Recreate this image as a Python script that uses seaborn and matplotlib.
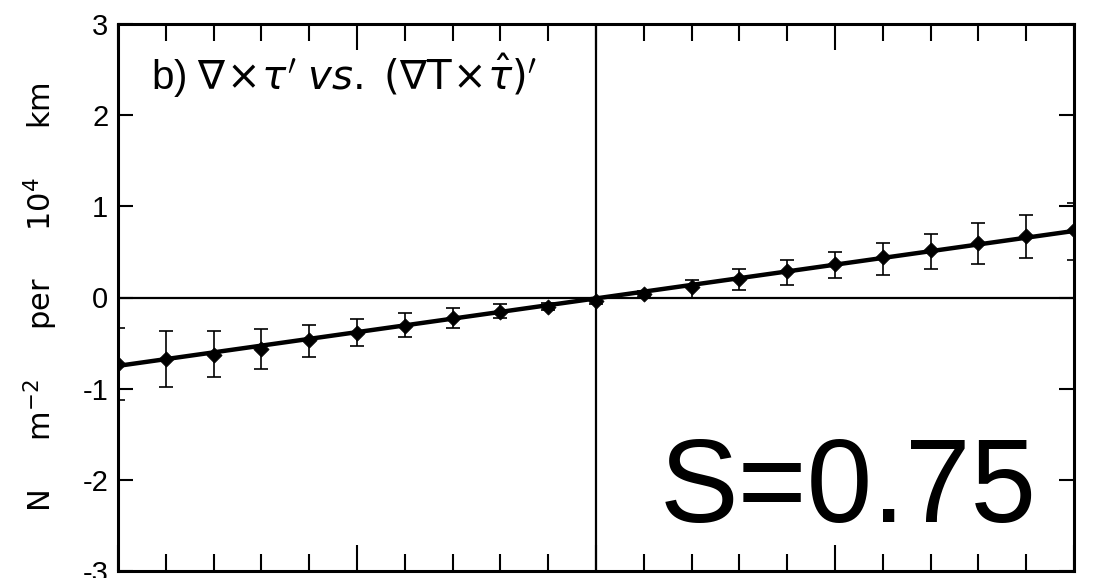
import numpy as np
import pandas as pd
import matplotlib
matplotlib.use("Agg")
import matplotlib.pyplot as plt
from matplotlib.ticker import MultipleLocator
import seaborn as sns

# ---- data ----
x_vals = [-1.0, -0.9, -0.8, -0.7, -0.6, -0.5, -0.4, -0.3, -0.2, -0.1, 0.0,
          0.1, 0.2, 0.3, 0.4, 0.5, 0.6, 0.7, 0.8, 0.9, 1.0]
y_mean = [-0.73, -0.68, -0.63, -0.57, -0.47, -0.39, -0.31, -0.22, -0.16, -0.10, -0.04,
          0.04, 0.11, 0.20, 0.29, 0.37, 0.44, 0.52, 0.60, 0.68, 0.74]
y_upper = [-0.33, -0.37, -0.37, -0.35, -0.30, -0.24, -0.17, -0.11, -0.07, -0.06, -0.01,
           0.07, 0.19, 0.31, 0.41, 0.50, 0.60, 0.70, 0.82, 0.91, 1.04]
y_lower = [-1.12, -0.98, -0.87, -0.78, -0.65, -0.53, -0.43, -0.33, -0.23, -0.14, -0.07,
           0.01, 0.00, 0.08, 0.14, 0.21, 0.25, 0.31, 0.37, 0.43, 0.41]
fit_x = [-1.0, 1.0]
fit_y = [-0.75, 0.73]
y_ticks = [-3, -2, -1, 0, 1, 2, 3]
slope_label = "S=0.75"
panel_title = r"b) $\nabla\!\times\!\tau'$ $\mathit{vs.}$ $(\nabla\mathrm{T}\!\times\!\hat{\tau})'$"
y_label = r"N     m$^{-2}$     per     10$^{4}$     km"

df = pd.DataFrame({"x": x_vals, "y": y_mean, "lo": y_lower, "hi": y_upper})
fit_df = pd.DataFrame({"x": fit_x, "y": fit_y})

sns.set_theme(style="ticks")
plt.rcParams["font.family"] = ["Liberation Sans", "DejaVu Sans"]
plt.rcParams["mathtext.fontset"] = "dejavusans"
for key in ["text.color", "axes.labelcolor", "xtick.color", "ytick.color", "axes.edgecolor"]:
    plt.rcParams[key] = "black"

fig = plt.figure(figsize=(11.03, 5.78), dpi=100)
ax = fig.add_axes([118 / 1103, 1 - 571 / 578, (1074 - 118) / 1103, (571 - 24) / 578])

# zero lines
ax.axhline(0, color="black", lw=1.6, zorder=1)
ax.axvline(0, color="black", lw=1.6, zorder=1)

# error bars
yerr = np.array([df["y"] - df["lo"], df["hi"] - df["y"]])
ax.errorbar(df["x"], df["y"], yerr=yerr, fmt="none", ecolor="black",
            elinewidth=1.2, capsize=5, capthick=1.2, zorder=2)

# fitted line
sns.lineplot(data=fit_df, x="x", y="y", ax=ax, color="black", lw=3.2, zorder=3)

# points
sns.scatterplot(data=df, x="x", y="y", ax=ax, color="black", marker="D",
                s=60, edgecolor="black", linewidth=0.5, zorder=4)

ax.set_xlim(-1.0, 1.0)
ax.set_ylim(-3, 3)
ax.set_yticks(y_ticks)
ax.set_yticklabels([str(t) for t in y_ticks])
ax.xaxis.set_major_locator(MultipleLocator(0.5))
ax.xaxis.set_minor_locator(MultipleLocator(0.1))
ax.tick_params(axis="x", which="major", direction="in", top=True, bottom=True,
               length=19, width=1.5, labelbottom=False)
ax.tick_params(axis="x", which="minor", direction="in", top=True, bottom=True,
               length=12, width=1.5)
ax.tick_params(axis="y", which="major", direction="in", left=True, right=True,
               length=11, width=1.5, labelsize=21, pad=7)
for s in ax.spines.values():
    s.set_visible(True)
    s.set_linewidth(2.2)
    s.set_color("black")

ax.set_xlabel("")
ax.set_ylabel(y_label, fontsize=22, labelpad=16, family="DejaVu Sans")

ax.text(0.035, 0.905, panel_title, transform=ax.transAxes, fontsize=29,
        ha="left", va="center")
ax.text(0.567, 0.09, slope_label, transform=ax.transAxes, fontsize=85,
        ha="left", va="baseline", family="Liberation Sans", color="black")

fig.savefig("out.png", dpi=100)
